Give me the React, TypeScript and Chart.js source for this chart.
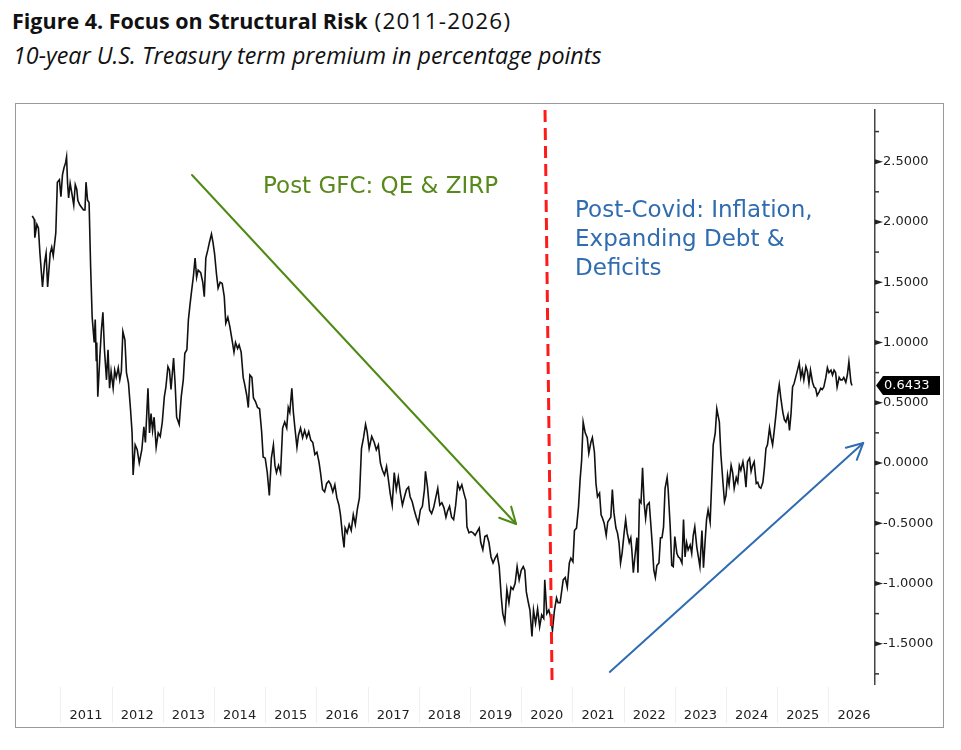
import React, { useEffect, useRef } from "react";
import { Chart, registerables } from "chart.js";

Chart.register(...registerables);

// ---- DATA ----
const dates: number[] = [
  2009.95, 2009.99, 2010.0, 2010.04, 2010.07, 2010.1, 2010.15, 2010.19, 2010.22, 2010.25,
  2010.3, 2010.33, 2010.36, 2010.41, 2010.44, 2010.48, 2010.51, 2010.54, 2010.57, 2010.6,
  2010.62, 2010.64, 2010.66, 2010.69, 2010.73, 2010.76, 2010.79, 2010.82, 2010.84, 2010.88,
  2010.95, 2010.98, 2011.0, 2011.03, 2011.06, 2011.09, 2011.12, 2011.16, 2011.18, 2011.2,
  2011.21, 2011.23, 2011.27, 2011.3, 2011.33, 2011.36, 2011.4, 2011.43, 2011.46, 2011.49,
  2011.53, 2011.56, 2011.59, 2011.63, 2011.66, 2011.69, 2011.72, 2011.76, 2011.79, 2011.83,
  2011.87, 2011.9, 2011.92, 2011.96, 2012.0, 2012.04, 2012.09, 2012.13, 2012.16, 2012.21,
  2012.24, 2012.27, 2012.3, 2012.33, 2012.37, 2012.41, 2012.45, 2012.49, 2012.53, 2012.56,
  2012.6, 2012.63, 2012.66, 2012.71, 2012.74, 2012.77, 2012.82, 2012.86, 2012.9, 2012.93,
  2012.97, 2013.0, 2013.03, 2013.06, 2013.1, 2013.13, 2013.16, 2013.19, 2013.24, 2013.28,
  2013.31, 2013.34, 2013.38, 2013.41, 2013.45, 2013.48, 2013.51, 2013.55, 2013.58, 2013.62,
  2013.66, 2013.7, 2013.73, 2013.77, 2013.81, 2013.86, 2013.89, 2013.92, 2013.96, 2013.99,
  2014.03, 2014.07, 2014.1, 2014.14, 2014.17, 2014.2, 2014.24, 2014.27, 2014.31, 2014.35,
  2014.39, 2014.43, 2014.46, 2014.5, 2014.54, 2014.58, 2014.62, 2014.66, 2014.69, 2014.72,
  2014.76, 2014.8, 2014.84, 2014.88, 2014.92, 2014.95, 2014.98, 2015.02, 2015.05, 2015.08,
  2015.12, 2015.15, 2015.19, 2015.23, 2015.27, 2015.31, 2015.35, 2015.39, 2015.43, 2015.47,
  2015.51, 2015.55, 2015.58, 2015.62, 2015.66, 2015.7, 2015.74, 2015.78, 2015.82, 2015.86,
  2015.9, 2015.94, 2015.97, 2016.01, 2016.04, 2016.06, 2016.1, 2016.14, 2016.18, 2016.22,
  2016.26, 2016.3, 2016.34, 2016.38, 2016.42, 2016.46, 2016.49, 2016.53, 2016.58, 2016.63,
  2016.67, 2016.71, 2016.75, 2016.79, 2016.83, 2016.87, 2016.9, 2016.94, 2016.98, 2017.02,
  2017.06, 2017.1, 2017.14, 2017.18, 2017.22, 2017.26, 2017.3, 2017.33, 2017.37, 2017.41,
  2017.45, 2017.49, 2017.53, 2017.57, 2017.61, 2017.63, 2017.67, 2017.71, 2017.75, 2017.79,
  2017.83, 2017.87, 2017.91, 2017.95, 2017.99, 2018.03, 2018.06, 2018.1, 2018.14, 2018.18,
  2018.22, 2018.26, 2018.3, 2018.34, 2018.38, 2018.42, 2018.44, 2018.48, 2018.52, 2018.56,
  2018.6, 2018.64, 2018.68, 2018.71, 2018.75, 2018.79, 2018.83, 2018.87, 2018.91, 2018.95,
  2018.99, 2019.03, 2019.07, 2019.11, 2019.14, 2019.18, 2019.22, 2019.26, 2019.3, 2019.34,
  2019.38, 2019.42, 2019.46, 2019.5, 2019.54, 2019.57, 2019.6, 2019.64, 2019.67, 2019.71,
  2019.74, 2019.78, 2019.82, 2019.86, 2019.9, 2019.94, 2019.96, 2020.0, 2020.04, 2020.08,
  2020.11, 2020.15, 2020.19, 2020.22, 2020.26, 2020.32, 2020.36, 2020.4, 2020.44, 2020.47,
  2020.51, 2020.54, 2020.58, 2020.62, 2020.65, 2020.68, 2020.71, 2020.75, 2020.79, 2020.82,
  2020.86, 2020.89, 2020.93, 2020.96, 2020.99, 2021.03, 2021.06, 2021.09, 2021.12, 2021.16,
  2021.19, 2021.22, 2021.25, 2021.28, 2021.31, 2021.35, 2021.38, 2021.41, 2021.44, 2021.47,
  2021.51, 2021.54, 2021.57, 2021.61, 2021.64, 2021.66, 2021.69, 2021.72, 2021.76, 2021.78,
  2021.81, 2021.84, 2021.87, 2021.9, 2021.93, 2021.96, 2022.0, 2022.03, 2022.06, 2022.09,
  2022.12, 2022.15, 2022.19, 2022.22, 2022.25, 2022.28, 2022.31, 2022.35, 2022.37, 2022.41,
  2022.44, 2022.47, 2022.5, 2022.54, 2022.57, 2022.6, 2022.64, 2022.67, 2022.7, 2022.73,
  2022.76, 2022.8, 2022.83, 2022.86, 2022.89, 2022.93, 2022.96, 2022.99, 2023.03, 2023.06,
  2023.09, 2023.12, 2023.15, 2023.19, 2023.22, 2023.25, 2023.29, 2023.32, 2023.37, 2023.4,
  2023.44, 2023.47, 2023.5, 2023.53, 2023.56, 2023.6, 2023.63, 2023.66, 2023.7, 2023.73,
  2023.76, 2023.79, 2023.83, 2023.86, 2023.89, 2023.92, 2023.96, 2023.99, 2024.02, 2024.05,
  2024.09, 2024.12, 2024.15, 2024.18, 2024.22, 2024.25, 2024.28, 2024.31, 2024.35, 2024.38,
  2024.41, 2024.44, 2024.48, 2024.51, 2024.54, 2024.57, 2024.61, 2024.64, 2024.67, 2024.71,
  2024.74, 2024.77, 2024.8, 2024.83, 2024.86, 2024.89, 2024.93, 2024.96, 2024.99, 2025.02,
  2025.06, 2025.09, 2025.12, 2025.15, 2025.19, 2025.22, 2025.25, 2025.28, 2025.32, 2025.35,
  2025.38, 2025.41, 2025.45, 2025.48, 2025.51, 2025.55, 2025.58, 2025.61, 2025.64, 2025.67,
  2025.71, 2025.74, 2025.77, 2025.8, 2025.84, 2025.87, 2025.9, 2025.94, 2025.96,
];

const premium: number[] = [
  2.05, 2.02, 1.87, 1.98, 1.95, 1.74, 1.46, 1.66, 1.74, 1.46,
  1.74, 1.79, 1.72, 1.91, 2.33, 2.35, 2.21, 2.39, 2.45, 2.49,
  2.54, 2.32, 2.2, 2.32, 2.22, 2.14, 2.31, 2.27, 2.18, 2.14,
  2.1, 2.1, 2.33, 2.18, 2.16, 1.63, 1.21, 1.0, 1.19, 0.85,
  1.0, 0.55, 0.88, 1.1, 1.25, 0.94, 0.69, 0.94, 0.62, 0.76,
  0.62, 0.77, 0.71, 0.79, 0.69, 0.76, 1.09, 1.02, 0.75, 0.66,
  0.44, 0.25, -0.1, 0.15, 0.11, 0.0, 0.11, 0.3, 0.17, 0.62,
  0.25, 0.41, 0.27, 0.38, 0.13, 0.25, 0.22, 0.34, 0.55, 0.63,
  0.8, 0.77, 0.61, 0.87, 0.66, 0.38, 0.32, 0.55, 0.69, 0.91,
  0.94, 1.19, 1.31, 1.42, 1.56, 1.7, 1.54, 1.6, 1.58, 1.5,
  1.38, 1.7, 1.77, 1.83, 1.9, 1.83, 1.74, 1.56, 1.45, 1.5,
  1.49, 1.38, 1.16, 1.21, 1.13, 1.0, 0.92, 1.0, 0.95, 0.98,
  0.92, 0.71, 0.65, 0.56, 0.46, 0.73, 0.71, 0.54, 0.51, 0.46,
  0.45, 0.26, 0.05, 0.04, -0.08, -0.27, 0.04, 0.15, -0.02, -0.08,
  -0.02, -0.08, 0.29, 0.34, 0.29, 0.46, 0.42, 0.62, 0.42, 0.29,
  0.13, 0.23, 0.29, 0.21, 0.27, 0.21, 0.26, 0.19, 0.17, 0.07,
  0.09, 0.01, -0.08, -0.22, -0.24, -0.17, -0.15, -0.18, -0.24, -0.18,
  -0.29, -0.35, -0.43, -0.6, -0.7, -0.54, -0.58, -0.51, -0.56, -0.43,
  -0.51, -0.38, -0.29, 0.12, 0.21, 0.32, 0.26, 0.12, 0.22, 0.17,
  0.11, 0.15, 0.0, -0.06, -0.1, -0.03, -0.12, -0.25, -0.35, -0.08,
  -0.22, -0.12, -0.25, -0.35, -0.28, -0.22, -0.2, -0.28, -0.32, -0.39,
  -0.45, -0.5, -0.39, -0.36, -0.22, -0.07, -0.2, -0.39, -0.42, -0.37,
  -0.29, -0.21, -0.35, -0.33, -0.37, -0.45, -0.4, -0.36, -0.45, -0.47,
  -0.35, -0.17, -0.22, -0.18, -0.25, -0.31, -0.53, -0.58, -0.57, -0.58,
  -0.6, -0.57, -0.54, -0.66, -0.72, -0.61, -0.6, -0.66, -0.78, -0.83,
  -0.79, -0.76, -0.86, -1.11, -1.25, -1.32, -1.05, -1.16, -1.03, -1.05,
  -1.0, -0.86, -0.97, -0.89, -0.86, -0.89, -1.07, -1.16, -1.22, -1.44,
  -1.22, -1.33, -1.21, -1.36, -1.26, -1.29, -0.97, -1.25, -1.22, -1.29,
  -1.39, -1.22, -1.12, -1.16, -1.16, -0.97, -0.95, -1.03, -0.83, -0.79,
  -0.82, -0.56, -0.54, -0.36, -0.14, 0.02, 0.34, 0.25, 0.21, 0.08,
  0.17, 0.21, 0.09, -0.17, -0.28, -0.25, -0.43, -0.46, -0.5, -0.6,
  -0.49, -0.47, -0.45, -0.22, -0.41, -0.54, -0.58, -0.66, -0.83, -0.75,
  -0.58, -0.47, -0.58, -0.66, -0.62, -0.72, -0.91, -0.78, -0.62, -0.91,
  -0.31, -0.33, -0.04, -0.33, -0.46, -0.35, -0.33, -0.5, -0.68, -0.89,
  -0.95, -0.85, -0.83, -0.62, -0.62, -0.53, -0.21, -0.12, -0.22, -0.53,
  -0.85, -0.86, -0.61, -0.75, -0.78, -0.79, -0.83, -0.47, -0.78, -0.66,
  -0.72, -0.68, -0.75, -0.6, -0.53, -0.7, -0.78, -0.86, -0.56, -0.87,
  -0.66, -0.47, -0.39, -0.49, -0.17, 0.15, 0.25, 0.45, 0.34, 0.07,
  -0.16, -0.32, -0.27, -0.1, -0.18, -0.02, -0.08, -0.21, -0.12, -0.16,
  -0.02, -0.06, 0.01, -0.07, -0.2, 0.01, 0.04, -0.07, -0.02, 0.01,
  -0.17, -0.16, -0.2, -0.21, -0.16, -0.04, 0.12, 0.15, 0.29, 0.21,
  0.15, 0.26, 0.42, 0.56, 0.65, 0.54, 0.42, 0.36, 0.34, 0.4,
  0.27, 0.41, 0.63, 0.66, 0.71, 0.76, 0.83, 0.71, 0.77, 0.69,
  0.8, 0.76, 0.66, 0.77, 0.67, 0.63, 0.62, 0.56, 0.59, 0.62,
  0.61, 0.63, 0.71, 0.79, 0.75, 0.77, 0.73, 0.77, 0.75, 0.63,
  0.71, 0.69, 0.69, 0.71, 0.67, 0.73, 0.84, 0.67, 0.6433,
];

const yearLabels: number[] = [
  2011, 2012, 2013, 2014, 2015, 2016, 2017, 2018, 2019, 2020, 2021, 2022, 2023, 2024, 2025, 2026,
];
const yTickValues: number[] = [
  -1.75, -1.5, -1.25, -1.0, -0.75, -0.5, -0.25, 0.0, 0.25, 0.5, 0.75, 1.0, 1.25, 1.5, 1.75, 2.0,
  2.25, 2.5, 2.75,
];
const lastValueLabel = "0.6433";
const gfcLabel = "Post GFC: QE & ZIRP";
const covidLabel: string[] = ["Post-Covid: Inflation,", "Expanding Debt &", "Deficits"];

// axis ranges
const X_MIN = 2009.652;
const X_MAX = 2026.41;
const Y_MIN = -1.834;
const Y_MAX = 2.929;

// annotation anchors (data coordinates)
const gfcArrow = { x1: 2013.07, y1: 2.39, x2: 2019.4, y2: -0.506 };
const covidArrow = { x1: 2021.23, y1: -1.734, x2: 2026.18, y2: 0.166 };
const gfcText = { x: 2014.457, y: 2.241 };
const covidText = { x: 2020.551, ys: [2.041, 1.801, 1.56] };
const covidLine = { xTop: 2019.965, xBottom: 2020.102, yBottom: -1.801 };

const points = dates.map((d, i) => ({ x: d, y: premium[i] }));

const GREEN_TEXT = "#57891b";
const GREEN_ARROW = "#4e8a14";
const BLUE_TEXT = "#2f6cb0";
const BLUE_ARROW = "#2f6cb2";
const AXIS_FONT = '13px "DejaVu Sans"';

function drawArrow(
  ctx: CanvasRenderingContext2D,
  x1: number,
  y1: number,
  x2: number,
  y2: number,
  color: string
) {
  ctx.save();
  ctx.strokeStyle = color;
  ctx.lineWidth = 2;
  ctx.lineCap = "round";
  ctx.lineJoin = "round";
  ctx.beginPath();
  ctx.moveTo(x1, y1);
  ctx.lineTo(x2, y2);
  ctx.stroke();
  const ang = Math.atan2(y1 - y2, x1 - x2);
  const head = 18;
  const spread = (27 * Math.PI) / 180;
  ctx.beginPath();
  ctx.moveTo(x2 + head * Math.cos(ang + spread), y2 + head * Math.sin(ang + spread));
  ctx.lineTo(x2, y2);
  ctx.lineTo(x2 + head * Math.cos(ang - spread), y2 + head * Math.sin(ang - spread));
  ctx.stroke();
  ctx.restore();
}

const overlay = {
  id: "overlay",
  afterDraw(chart: any) {
    const { ctx, chartArea } = chart;
    const xs = chart.scales.x;
    const ys = chart.scales.y;
    const px = (v: number) => xs.getPixelForValue(v);
    const py = (v: number) => ys.getPixelForValue(v);
    ctx.save();

    // faint separators between year labels
    ctx.strokeStyle = "#f0f0f0";
    ctx.lineWidth = 1;
    for (const yr of yearLabels) {
      const sx = Math.round(px(yr - 0.5)) + 0.5;
      if (sx > chartArea.right) continue;
      ctx.beginPath();
      ctx.moveTo(sx, chartArea.bottom + 3);
      ctx.lineTo(sx, chart.height - 4);
      ctx.stroke();
    }

    // y-axis tick marks
    const ax = ys.left;
    ctx.fillStyle = "#222";
    ctx.strokeStyle = "#333";
    for (const v of yTickValues) {
      const yy = py(v);
      const major = Math.abs(v * 2 - Math.round(v * 2)) < 1e-6;
      if (major) {
        ctx.beginPath();
        ctx.moveTo(ax, yy - 2.5);
        ctx.lineTo(ax + 8, yy);
        ctx.lineTo(ax, yy + 2.5);
        ctx.closePath();
        ctx.fill();
      } else {
        ctx.lineWidth = 1.5;
        ctx.beginPath();
        ctx.moveTo(ax, yy);
        ctx.lineTo(ax + 4, yy);
        ctx.stroke();
      }
    }

    // last value tag
    const lv = premium[premium.length - 1];
    const ty = py(lv);
    ctx.fillStyle = "#000";
    ctx.beginPath();
    ctx.moveTo(ax + 1, ty);
    ctx.lineTo(ax + 8, ty - 9.5);
    ctx.lineTo(ax + 65, ty - 9.5);
    ctx.lineTo(ax + 65, ty + 9.5);
    ctx.lineTo(ax + 8, ty + 9.5);
    ctx.closePath();
    ctx.fill();
    ctx.fillStyle = "#fff";
    ctx.font = AXIS_FONT;
    ctx.textAlign = "left";
    ctx.textBaseline = "middle";
    ctx.fillText(lastValueLabel, ax + 9, ty + 0.5);

    // red dashed covid line
    ctx.strokeStyle = "#ff1a1a";
    ctx.lineWidth = 3;
    ctx.setLineDash([12, 6]);
    ctx.beginPath();
    ctx.moveTo(px(covidLine.xTop), chartArea.top);
    ctx.lineTo(px(covidLine.xBottom), py(covidLine.yBottom));
    ctx.stroke();
    ctx.setLineDash([]);

    // arrows
    drawArrow(ctx, px(gfcArrow.x1), py(gfcArrow.y1), px(gfcArrow.x2), py(gfcArrow.y2), GREEN_ARROW);
    drawArrow(
      ctx,
      px(covidArrow.x1),
      py(covidArrow.y1),
      px(covidArrow.x2),
      py(covidArrow.y2),
      BLUE_ARROW
    );

    // annotation texts
    ctx.font = '23px "DejaVu Sans"';
    ctx.textAlign = "left";
    ctx.textBaseline = "alphabetic";
    ctx.fillStyle = GREEN_TEXT;
    ctx.fillText(gfcLabel, px(gfcText.x), py(gfcText.y));
    ctx.fillStyle = BLUE_TEXT;
    covidLabel.forEach((line, i) => {
      ctx.fillText(line, px(covidText.x), py(covidText.ys[i]));
    });

    ctx.restore();
  },
};

export default function App() {
  const ref = useRef<HTMLCanvasElement>(null);

  useEffect(() => {
    if (!ref.current) return;
    const chart = new Chart(ref.current, {
      type: "line",
      data: {
        datasets: [
          {
            data: points,
            borderColor: "#111",
            borderWidth: 1.6,
            pointRadius: 0,
            tension: 0,
            fill: false,
          },
        ],
      },
      options: {
        responsive: false,
        maintainAspectRatio: false,
        animation: false,
        devicePixelRatio: 1,
        layout: { padding: { left: 1, top: 6, right: 0, bottom: 0 } },
        plugins: { legend: { display: false }, tooltip: { enabled: false } },
        scales: {
          x: {
            type: "linear",
            min: X_MIN,
            max: X_MAX,
            afterBuildTicks: (s: any) => {
              s.ticks = yearLabels.map((v) => ({ value: v }));
            },
            ticks: {
              callback: (v: any) => String(v),
              padding: 24,
              autoSkip: false,
              maxRotation: 0,
              color: "#222",
              font: { family: "DejaVu Sans", size: 13 },
            },
            grid: { display: false, drawTicks: false },
            border: { display: false },
            afterFit: (s: any) => {
              s.height = 43;
              s.paddingLeft = 0;
              s.paddingRight = 0;
            },
          },
          y: {
            type: "linear",
            position: "right",
            min: Y_MIN,
            max: Y_MAX,
            afterBuildTicks: (s: any) => {
              s.ticks = yTickValues.map((v) => ({ value: v }));
            },
            ticks: {
              callback: (v: any) =>
                Math.abs(v * 2 - Math.round(v * 2)) < 1e-6 ? Number(v).toFixed(4) : "",
              padding: 8,
              autoSkip: false,
              color: "#222",
              font: { family: "DejaVu Sans", size: 13 },
            },
            grid: { display: false, drawTicks: false },
            border: { display: true, color: "#444", width: 1.5 },
            afterFit: (s: any) => {
              s.width = 68;
              s.paddingTop = 0;
              s.paddingBottom = 0;
            },
          },
        },
      },
      plugins: [overlay],
    });
    return () => chart.destroy();
  }, []);

  return (
    <div
      style={{
        position: "absolute",
        left: 0,
        top: 0,
        width: 961,
        height: 750,
        background: "#fff",
        overflow: "hidden",
      }}
    >
      <div
        style={{
          position: "absolute",
          left: 12,
          top: 10,
          fontFamily: '"Open Sans", sans-serif',
          fontSize: 21.5,
          lineHeight: "21.5px",
          color: "#111",
          whiteSpace: "nowrap",
        }}
      >
        <span style={{ fontWeight: 700 }}>Figure 4. Focus on Structural Risk</span>
        <span style={{ fontWeight: 400, fontSize: 22.5, letterSpacing: "1.2px" }}>
          {" "}
          (2011-2026)
        </span>
      </div>
      <div
        style={{
          position: "absolute",
          left: 13,
          top: 44,
          fontFamily: '"Open Sans", sans-serif',
          fontSize: 23.3,
          lineHeight: "23.3px",
          fontStyle: "italic",
          color: "#111",
          whiteSpace: "nowrap",
        }}
      >
        10-year U.S. Treasury term premium in percentage points
      </div>
      <div
        style={{
          position: "absolute",
          left: 15,
          top: 103,
          width: 929,
          height: 625,
          border: "1px solid #9a9a9a",
          boxSizing: "border-box",
        }}
      />
      <canvas
        ref={ref}
        width={927}
        height={623}
        style={{ position: "absolute", left: 16, top: 104, width: 927, height: 623 }}
      />
    </div>
  );
}
